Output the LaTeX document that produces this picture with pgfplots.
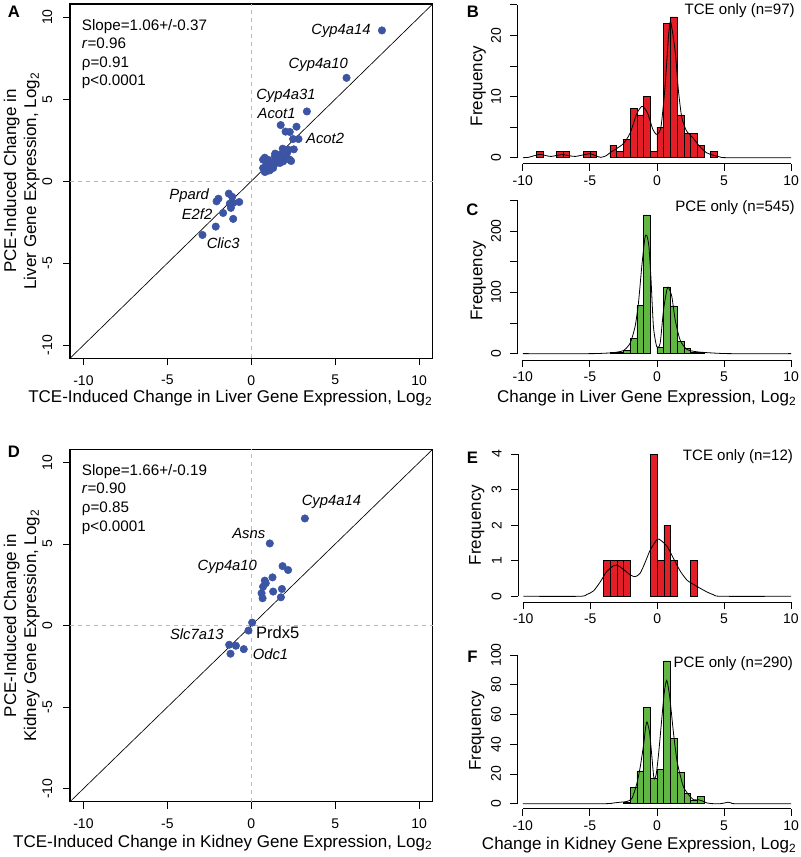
\documentclass[border=0pt]{standalone}
\usepackage{fontspec}
\setmainfont{Liberation Sans}
\usepackage{pgfplots}
\pgfplotsset{compat=1.18}
\definecolor{dotblue}{RGB}{59,84,164}
\definecolor{barred}{RGB}{228,30,38}
\definecolor{bargreen}{RGB}{96,184,66}
\newcommand{\fs}[1]{\fontsize{#1}{#1}\selectfont}
\tikzset{gl/.style={font=\fs{11.1}\itshape, inner sep=0pt}}
\pgfplotsset{
  base/.style={scale only axis, /pgf/number format/assume math mode=true,
    tick align=outside, major tick length=5.25pt,
    every tick/.style={black, line width=0.6pt},
    ticklabel style={font=\fs{10.5}},
    yticklabel style={rotate=90, anchor=south},
    clip=false},
  scat/.style={base, width=272pt, xmin=-10.8,xmax=10.8,ymin=-10.8,ymax=10.8,
    xtick={-10,-5,0,5,10}, ytick={-10,-5,0,5,10}, tick pos=left,
    xticklabel shift=4pt, yticklabel shift=4.5pt,
    axis line style={line width=0.9pt}},
  hist/.style={base, width=209.3pt, xmin=-10.4, xmax=10.4, xtick={-10,-5,0,5,10},
    yticklabel shift=3.5pt,
    axis x line*=bottom, axis y line*=left, axis line style={draw=none}},
  dens/.style={black, line width=0.6pt, smooth, tension=0.4},
}
\begin{document}
\begin{tikzpicture}
\useasboundingbox (0,0) rectangle (600pt,642.75pt);
% ---------------- Panel A ----------------
\begin{axis}[scat, height=265.7pt, at={(52.5pt,374.025pt)}, anchor=south west]
\draw[gray!55, dashed, line width=0.6pt] (axis cs:0,-10.8) -- (axis cs:0,10.8);
\draw[gray!55, dashed, line width=0.6pt] (axis cs:-10.8,0) -- (axis cs:10.8,0);
\draw[black, line width=0.5pt] (axis cs:-10.8,-10.8) -- (axis cs:10.8,10.8);
\addplot[only marks, mark=*, mark size=2.8pt, mark options={fill=dotblue, draw=dotblue}] coordinates {
(7.78,9.19) (5.67,6.30) (3.31,4.25)
(1.75,3.42) (2.69,3.32) (2.04,3.02) (2.29,3.00) (2.49,2.57) (2.81,2.57) (1.87,1.98) (2.53,1.94)
(2.13,1.72) (2.37,1.23) (1.42,1.68) (1.56,1.41) (0.80,1.43) (1.14,1.15) (0.90,1.00) (1.30,0.80)
(0.80,0.56) (1.10,0.66) (1.70,1.11) (2.00,1.50) (0.70,0.80) (1.50,1.11) (0.70,1.31) (1.40,1.51)
(1.70,1.61) (2.19,1.92) (2.29,1.31) (1.90,1.21) (0.90,0.60) (1.20,0.80) (1.00,1.30) (1.20,1.00)
(-1.96,-1.07) (-2.07,-1.23) (-1.34,-0.76) (-1.14,-0.96) (-1.08,-1.33) (-0.72,-1.27) (-1.28,-1.37)
(-1.22,-1.63) (-1.68,-1.94) (-1.08,-2.30) (-2.12,-2.77) (-2.91,-3.28)
};
\node[gl, anchor=east] at (axis cs:7.12,9.19) {Cyp4a14};
\node[gl, anchor=east] at (axis cs:5.77,7.10) {Cyp4a10};
\node[gl, anchor=east] at (axis cs:3.84,5.17) {Cyp4a31};
\node[gl, anchor=east] at (axis cs:2.65,4.15) {Acot1};
\node[gl, anchor=west] at (axis cs:3.25,2.59) {Acot2};
\node[gl, anchor=east] at (axis cs:-2.51,-0.88) {Ppard};
\node[gl, anchor=east] at (axis cs:-2.31,-2.04) {E2f2};
\node[gl, anchor=west] at (axis cs:-2.67,-3.77) {Clic3};
\end{axis}
% ---------------- Panel D ----------------
\begin{axis}[scat, height=264.3pt, at={(52.5pt,41.475pt)}, anchor=south west]
\draw[gray!55, dashed, line width=0.6pt] (axis cs:0,-10.8) -- (axis cs:0,10.8);
\draw[gray!55, dashed, line width=0.6pt] (axis cs:-10.8,0) -- (axis cs:10.8,0);
\draw[black, line width=0.5pt] (axis cs:-10.8,-10.8) -- (axis cs:10.8,10.8);
\addplot[only marks, mark=*, mark size=2.8pt, mark options={fill=dotblue, draw=dotblue}] coordinates {
(3.19,6.56) (1.10,5.03) (1.86,3.64) (2.19,3.40) (0.80,2.75) (1.26,2.95) (0.70,2.38) (0.86,2.59)
(1.30,2.08) (0.61,1.98) (0.67,1.67) (1.82,2.24) (1.76,1.73) (0.05,0.18) (-0.17,-0.31)
(-1.32,-1.18) (-0.92,-1.24) (-0.45,-1.45) (-1.24,-1.73)
};
\node[gl, anchor=west] at (axis cs:2.99,7.58) {Cyp4a14};
\node[gl, anchor=east] at (axis cs:0.84,5.64) {Asns};
\node[gl, anchor=east] at (axis cs:0.35,3.60) {Cyp4a10};
\node[font=\fs{12.4}, inner sep=0pt, anchor=west] at (axis cs:0.27,-0.43) {Prdx5};
\node[gl, anchor=east] at (axis cs:-1.64,-0.53) {Slc7a13};
\node[gl, anchor=west] at (axis cs:0.07,-1.79) {Odc1};
\end{axis}
% ---------------- Panel B ----------------
\begin{axis}[hist, height=121.6pt, ymin=-1, ymax=25.5, ytick={0,5,...,25}, yticklabels={0,,10,,20,},
  at={(388.05pt,519.9pt)}, anchor=south west]
\draw[line width=0.6pt] (axis cs:-10,-1) -- (axis cs:10,-1);
\draw[line width=0.6pt] (axis cs:-10.4,0) -- (axis cs:-10.4,25);
\addplot[ybar, bar width=0.5, bar shift=0pt, fill=barred, draw=black, line width=0.4pt] coordinates {
(-8.75,1) (-7.25,1) (-6.75,1) (-5.25,1) (-4.75,1) (-3.25,2) (-2.75,1) (-2.25,3) (-1.75,8) (-1.25,7)
(-0.75,10) (-0.25,1) (0.25,5) (0.75,22) (1.25,23) (1.75,7) (2.25,4) (2.75,4) (3.25,2) (4.25,1)
};
\addplot[dens] coordinates {
(-10,0) (-9.6,0.05) (-9.1,0.35) (-8.7,0.55) (-8.3,0.35) (-7.9,0.2) (-7.4,0.4) (-7.0,0.5) (-6.6,0.35)
(-6.1,0.2) (-5.5,0.45) (-5.0,0.65) (-4.6,0.35) (-4.2,0.05) (-3.8,0.3) (-3.5,0.8) (-3.0,1.5) (-2.5,2.3)
(-2.0,4.0) (-1.5,7.2) (-1.1,8.4) (-0.7,7.3) (-0.3,4.6) (0.0,3.8) (0.3,5.0) (0.6,11.5) (0.85,19.5) (1.0,22.3)
(1.2,20.0) (1.4,16.5) (1.6,11) (1.85,6.6) (2.2,4.4) (2.7,3.2) (3.2,1.8) (3.7,0.8) (4.2,0.4) (4.7,0.12) (5.2,0)
(10,0)
};
\end{axis}
% ---------------- Panel C ----------------
\begin{axis}[hist, height=122.4pt, ymin=-11, ymax=255, ytick={0,50,...,250}, yticklabels={0,,100,,200,},
  at={(388.05pt,372.45pt)}, anchor=south west]
\draw[line width=0.6pt] (axis cs:-10,-11) -- (axis cs:10,-11);
\draw[line width=0.6pt] (axis cs:-10.4,0) -- (axis cs:-10.4,250);
\addplot[ybar, bar width=0.5, bar shift=0pt, fill=bargreen, draw=black, line width=0.4pt] coordinates {
(-3.25,2) (-2.75,3) (-2.25,5) (-1.75,25) (-1.25,79) (-0.75,226) (0.25,10) (0.75,109) (1.25,78)
(1.75,20) (2.25,9) (2.75,3) (3.25,2)
};
\addplot[dens] coordinates {
(-10,0) (-5,0) (-4,0.6) (-3.25,1.6) (-2.5,5) (-2.0,17) (-1.63,44) (-1.38,82) (-1.13,142) (-0.9,188)
(-0.76,193) (-0.6,175) (-0.45,125) (-0.26,44) (-0.01,11) (0.24,17) (0.49,71) (0.74,104) (0.86,108)
(1.11,93) (1.36,55) (1.73,22) (2.23,7) (2.98,3) (4.2,1) (5.5,0) (10,0)
};
\end{axis}
% ---------------- Panel E ----------------
\begin{axis}[hist, width=208.8pt, height=113.9pt, xmin=-10.4, xmax=10.4, ymin=-0.17, ymax=4.1, ytick={0,1,2,3,4},
  at={(388.46pt,190.99pt)}, anchor=south west]
\draw[line width=0.6pt] (axis cs:-10,-0.17) -- (axis cs:10,-0.17);
\draw[line width=0.6pt] (axis cs:-10.4,0) -- (axis cs:-10.4,4);
\addplot[ybar, bar width=0.5, bar shift=0pt, fill=barred, draw=black, line width=0.4pt] coordinates {
(-3.75,1) (-3.25,1) (-2.75,1) (-2.25,1) (-0.25,4) (0.25,1) (0.75,2) (1.25,1) (2.75,1)
};
\addplot[dens] coordinates {
(-10,0) (-5.8,0) (-5.26,0.05) (-4.76,0.15) (-4.26,0.4) (-3.76,0.7) (-3.26,0.86) (-3.0,0.88) (-2.5,0.75)
(-2.0,0.6) (-1.64,0.55) (-1.27,0.65) (-0.9,0.95) (-0.52,1.3) (0.0,1.6) (0.25,1.58) (0.75,1.4) (1.24,1.05)
(1.74,0.7) (2.24,0.45) (2.74,0.33) (3.24,0.22) (3.73,0.12) (4.23,0.04) (4.8,0) (10,0)
};
\end{axis}
% ---------------- Panel F ----------------
\begin{axis}[hist, height=116.5pt, ymin=-3.5, ymax=101, ytick={0,20,...,100},
  at={(388.05pt,36.075pt)}, anchor=south west]
\draw[line width=0.6pt] (axis cs:-10,-3.5) -- (axis cs:10,-3.5);
\draw[line width=0.6pt] (axis cs:-10.4,0) -- (axis cs:-10.4,100);
\addplot[ybar, bar width=0.5, bar shift=0pt, fill=bargreen, draw=black, line width=0.4pt] coordinates {
(-2.25,1) (-1.75,11) (-1.25,22) (-0.75,65) (-0.25,17) (0.25,23) (0.75,96) (1.25,44) (1.75,21)
(2.25,7) (2.75,2) (3.25,5)
};
\addplot[dens] coordinates {
(-10,0) (-4,0) (-3.23,0.5) (-2.73,1) (-2.24,1.5) (-1.86,3.6) (-1.49,13.7) (-1.24,25) (-0.99,40) (-0.85,51)
(-0.74,55) (-0.55,48) (-0.38,32) (-0.22,17) (-0.05,20) (0.15,36) (0.35,56) (0.55,75) (0.73,83) (0.95,72) (1.24,47)
(1.49,29) (1.74,19) (1.99,11) (2.36,6) (2.73,2.7) (3.1,2.6) (3.35,2) (3.73,0.5) (4.2,0) (4.7,0) (5.05,0.5)
(5.3,1) (5.55,0.5) (5.9,0) (10,0)
};
\end{axis}
% ---------------- Text ----------------
\begin{scope}[x=0.75pt, y=-0.75pt, yshift=642.75pt]
\node[font=\fs{12.5}\bfseries] at (14,12) {A};
\node[font=\fs{12.5}\bfseries] at (473,12) {B};
\node[font=\fs{12.5}\bfseries] at (472.5,210) {C};
\node[font=\fs{12.5}\bfseries] at (14,452) {D};
\node[font=\fs{12.5}\bfseries] at (472.5,457.5) {E};
\node[font=\fs{12.5}\bfseries] at (472.5,657) {F};
% stats
\node[font=\fs{11.4}, anchor=base west, inner sep=0pt] at (81.7,30.5) {Slope=1.06+/-0.37};
\node[font=\fs{11.4}, anchor=base west, inner sep=0pt] at (81.7,48.8) {\textit{r}=0.96};
\node[font=\fs{11.4}, anchor=base west, inner sep=0pt] at (81.7,67.2) {ρ=0.91};
\node[font=\fs{11.4}, anchor=base west, inner sep=0pt] at (81.7,85.5) {p<0.0001};
\node[font=\fs{11.4}, anchor=base west, inner sep=0pt] at (81.7,475.5) {Slope=1.66+/-0.19};
\node[font=\fs{11.4}, anchor=base west, inner sep=0pt] at (81.7,493.8) {\textit{r}=0.90};
\node[font=\fs{11.4}, anchor=base west, inner sep=0pt] at (81.7,512.8) {ρ=0.85};
\node[font=\fs{11.4}, anchor=base west, inner sep=0pt] at (81.7,531.5) {p<0.0001};
% scatter titles
\node[font=\fs{12.75}, rotate=90] at (11.7,181) {PCE-Induced Change in};
\node[font=\fs{12.75}, rotate=90] at (31.7,181) {Liver Gene Expression, Log\textsubscript{2}};
\node[font=\fs{12.75}, anchor=east, inner sep=0pt] at (432.7,398) {TCE-Induced Change in Liver Gene Expression, Log\textsubscript{2}};
\node[font=\fs{12.75}, rotate=90] at (11.7,625.5) {PCE-Induced Change in};
\node[font=\fs{12.75}, rotate=90] at (31.7,625.5) {Kidney Gene Expression, Log\textsubscript{2}};
\node[font=\fs{12.75}, anchor=east, inner sep=0pt] at (432.7,842.7) {TCE-Induced Change in Kidney Gene Expression, Log\textsubscript{2}};
% histogram titles
\node[font=\fs{12.75}, rotate=90] at (478.3,86) {Frequency};
\node[font=\fs{12.75}, rotate=90] at (478.3,280.8) {Frequency};
\node[font=\fs{12.75}, rotate=90] at (476.7,525) {Frequency};
\node[font=\fs{12.75}, rotate=90] at (476.7,730.8) {Frequency};
\node[font=\fs{12.75}] at (646.7,398.3) {Change in Liver Gene Expression, Log\textsubscript{2}};
\node[font=\fs{12.75}] at (639.2,845) {Change in Kidney Gene Expression, Log\textsubscript{2}};
\node[font=\fs{11.3}, anchor=east, inner sep=0pt] at (795,11) {TCE only (n=97)};
\node[font=\fs{11.3}, anchor=east, inner sep=0pt] at (795,207.3) {PCE only (n=545)};
\node[font=\fs{11.3}, anchor=east, inner sep=0pt] at (793.3,456.7) {TCE only (n=12)};
\node[font=\fs{11.3}, anchor=east, inner sep=0pt] at (793.3,663.3) {PCE only (n=290)};
\end{scope}
\end{tikzpicture}
\end{document}
